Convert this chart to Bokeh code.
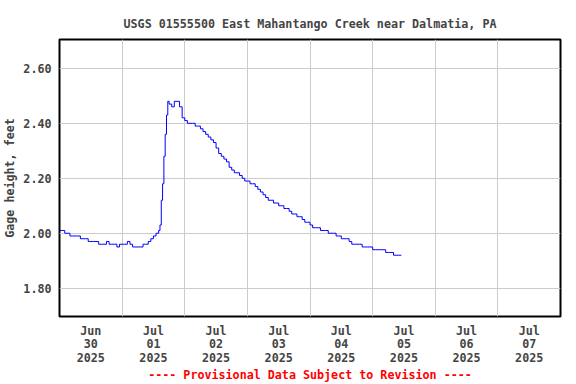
from bokeh.plotting import figure
from bokeh.models import Range1d, FixedTicker, NumeralTickFormatter
from bokeh.embed import file_html
from bokeh.resources import INLINE

# ---- data (gage height, feet), hours since 2025-06-30 00:00 ----
hours = list(range(38)) + [38 + 0.5 * i for i in range(8)] + list(range(42, 132))
gage_height = [
    2.01, 2.01, 2.00, 2.00, 1.99, 1.99, 1.99, 1.99, 1.98, 1.98, 1.98, 1.97, 1.97,
    1.97, 1.97, 1.96, 1.96, 1.96, 1.97, 1.96, 1.96, 1.96, 1.95, 1.96, 1.96, 1.96,
    1.97, 1.96, 1.95, 1.95, 1.95, 1.95, 1.96, 1.96, 1.97, 1.98, 1.99, 2.00,
    2.01, 2.03, 2.12, 2.18, 2.28, 2.36, 2.43, 2.48,
    2.47, 2.46, 2.48, 2.48, 2.46, 2.42, 2.41, 2.40, 2.40, 2.40, 2.39, 2.39, 2.38,
    2.37, 2.36, 2.35, 2.34, 2.33, 2.31, 2.29, 2.28, 2.27, 2.26, 2.24, 2.23, 2.22,
    2.22, 2.21, 2.20, 2.19, 2.19, 2.18, 2.18, 2.17, 2.16, 2.15, 2.14, 2.13, 2.12,
    2.12, 2.11, 2.11, 2.10, 2.10, 2.09, 2.09, 2.08, 2.07, 2.07, 2.06, 2.06, 2.05,
    2.04, 2.04, 2.03, 2.02, 2.02, 2.02, 2.01, 2.01, 2.01, 2.00, 2.00, 2.00, 1.99,
    1.99, 1.98, 1.98, 1.98, 1.97, 1.96, 1.96, 1.96, 1.96, 1.95, 1.95, 1.95, 1.95,
    1.94, 1.94, 1.94, 1.94, 1.94, 1.93, 1.93, 1.93, 1.92, 1.92, 1.92, 1.92,
]

day_ticks = [12, 36, 60, 84, 108, 132, 156, 180]
day_labels = ["Jun\n30\n2025", "Jul\n01\n2025", "Jul\n02\n2025", "Jul\n03\n2025",
              "Jul\n04\n2025", "Jul\n05\n2025", "Jul\n06\n2025", "Jul\n07\n2025"]
midnights = [24, 48, 72, 96, 120, 144, 168]
y_ticks = [1.80, 2.00, 2.20, 2.40, 2.60]

title_text = "USGS 01555500 East Mahantango Creek near Dalmatia, PA"
ylabel_text = "Gage height, feet"
footer_text = "---- Provisional Data Subject to Revision ----"

FONT = "DejaVu Sans Mono"
FS = "11.7px"

p = figure(width=576, height=384, output_backend="svg", toolbar_location=None,
           x_range=Range1d(0, 192), y_range=Range1d(1.697, 2.705),
           min_border_left=59, min_border_right=16, min_border_top=39,
           min_border_bottom=68)
p.outline_line_color = "black"
p.outline_line_width = 2
p.background_fill_color = "white"
p.border_fill_color = "white"

p.title.text = title_text
p.title.align = "center"
p.title.text_font = FONT
p.title.text_font_style = "bold"
p.title.text_font_size = FS
p.title.standoff = 17

p.step(hours, gage_height, mode="after", line_color="#0000ff", line_width=1)

# x axis (footer note is the axis label)
xa = p.xaxis[0]
xa.ticker = FixedTicker(ticks=day_ticks)
xa.major_label_overrides = {t: l for t, l in zip(day_ticks, day_labels)}
xa.axis_line_color = None
xa.major_tick_line_color = None
xa.minor_tick_line_color = None
xa.major_tick_out = 0
xa.major_tick_in = 0
xa.minor_tick_out = 0
xa.minor_tick_in = 0
xa.major_label_text_font = FONT
xa.major_label_text_font_style = "bold"
xa.major_label_text_font_size = FS
xa.major_label_text_line_height = 0.97
xa.major_label_standoff = 7
xa.axis_label = footer_text
xa.axis_label_text_font = FONT
xa.axis_label_text_font_style = "bold"
xa.axis_label_text_font_size = FS
xa.axis_label_text_color = "#ff0000"
xa.axis_label_standoff = 0

# y axis
ya = p.yaxis[0]
ya.ticker = FixedTicker(ticks=y_ticks)
ya.formatter = NumeralTickFormatter(format="0.00")
ya.axis_line_color = None
ya.major_tick_line_color = None
ya.minor_tick_line_color = None
ya.major_tick_out = 0
ya.major_tick_in = 0
ya.minor_tick_out = 0
ya.minor_tick_in = 0
ya.major_label_text_font = FONT
ya.major_label_text_font_style = "bold"
ya.major_label_text_font_size = FS
ya.major_label_standoff = 8
ya.axis_label = ylabel_text
ya.axis_label_text_font = FONT
ya.axis_label_text_font_style = "bold"
ya.axis_label_text_font_size = FS
ya.axis_label_standoff = 3

p.xgrid.ticker = FixedTicker(ticks=midnights)
p.xgrid.grid_line_color = "#cccccc"
p.ygrid.grid_line_color = "#cccccc"

open("out.html", "w").write(file_html(p, INLINE))
